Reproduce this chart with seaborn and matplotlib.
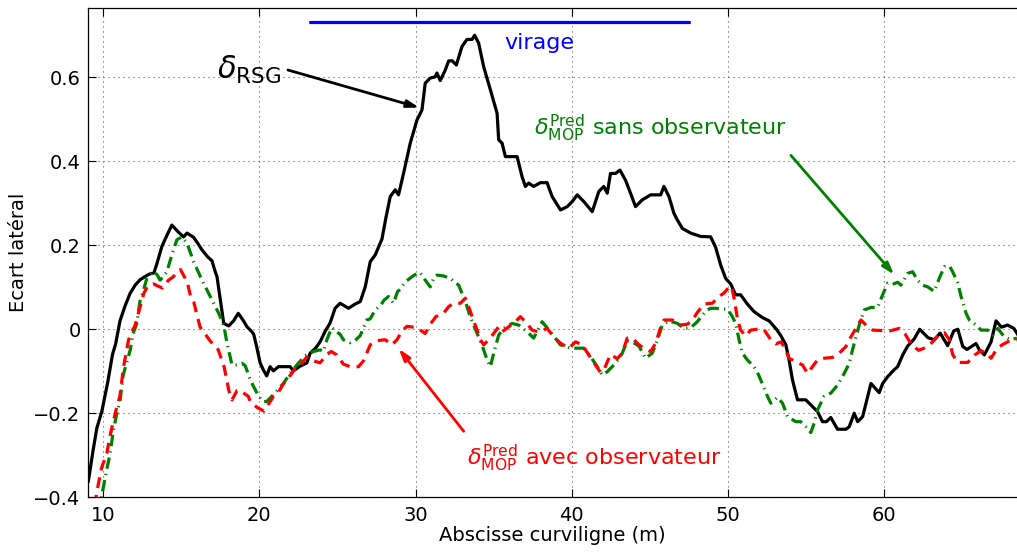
import matplotlib
matplotlib.use("Agg")
import matplotlib.pyplot as plt
import seaborn as sns
import pandas as pd

# ---------------- data ----------------
x_rsg = [9.05, 9.35, 9.6, 9.92, 10.3, 10.6, 10.8, 11.08, 11.4, 11.72, 12.05, 12.37, 12.7, 13.0, 13.25, 13.45,
         13.76, 14.1, 14.4, 14.8, 15.15, 15.37, 15.79, 16.05, 16.33, 16.7, 16.97, 17.15, 17.29, 17.5, 17.72,
         18.04, 18.35, 18.65, 18.95, 19.21, 19.5, 19.64, 19.85, 20.05, 20.26, 20.47, 20.69, 20.9, 21.22,
         21.97, 22.18, 22.6, 23.04, 23.25, 23.6, 23.89, 24.21, 24.53, 24.85, 25.17, 25.71, 26.13, 26.46,
         26.78, 27.1, 27.42, 27.85, 28.1, 28.38, 28.7, 28.91, 29.23, 29.66, 30.09, 30.41, 30.62, 30.94,
         31.26, 31.37, 31.58, 31.9, 32.12, 32.35, 32.61, 32.97, 33.29, 33.62, 33.78, 34.04, 34.36, 34.79,
         35.22, 35.32, 35.54, 35.75, 36.5, 36.82, 37.03, 37.24, 37.56, 37.99, 38.42, 38.74, 39.28, 39.71,
         40.03, 40.35, 40.77, 41.31, 41.73, 42.05, 42.27, 42.48, 42.8, 43.08, 43.44, 43.76, 44.08, 44.51,
         45.05, 45.69, 45.9, 46.22, 46.54, 46.76, 47.08, 47.61, 48.25, 48.89, 49.21, 49.53, 49.85, 50.17,
         50.49, 50.81, 51.24, 51.67, 52.2, 52.63, 53.1, 53.38, 53.7, 53.91, 54.13, 54.45, 54.98, 55.41,
         55.73, 56.05, 56.3, 56.58, 57.01, 57.55, 57.76, 58.08, 58.3, 58.62, 59.15, 59.68, 59.9, 60.22,
         60.54, 60.86, 61.2, 61.5, 61.92, 62.27, 62.8, 63.21, 63.58, 64.06, 64.45, 64.71, 65.03, 65.3,
         65.88, 66.09, 66.41, 66.84, 67.16, 67.5, 67.9, 68.3, 68.57]
y_rsg = [-0.363, -0.29, -0.235, -0.195, -0.125, -0.06, -0.035, 0.02, 0.055, 0.085, 0.105, 0.118, 0.126, 0.132,
         0.134, 0.157, 0.197, 0.225, 0.248, 0.232, 0.22, 0.229, 0.219, 0.205, 0.189, 0.172, 0.163, 0.14, 0.125,
         0.07, 0.014, 0.008, 0.02, 0.038, 0.022, 0.006, -0.005, -0.012, -0.045, -0.08, -0.097, -0.111, -0.089,
         -0.099, -0.089, -0.089, -0.099, -0.088, -0.08, -0.057, -0.045, -0.03, -0.005, 0.015, 0.05, 0.062,
         0.05, 0.06, 0.066, 0.101, 0.161, 0.177, 0.215, 0.265, 0.316, 0.332, 0.32, 0.371, 0.443, 0.498, 0.522,
         0.586, 0.598, 0.601, 0.61, 0.592, 0.617, 0.639, 0.639, 0.629, 0.673, 0.69, 0.69, 0.7, 0.681, 0.625,
         0.57, 0.514, 0.451, 0.443, 0.411, 0.411, 0.363, 0.34, 0.348, 0.34, 0.349, 0.349, 0.316, 0.284, 0.292,
         0.304, 0.32, 0.304, 0.28, 0.328, 0.34, 0.324, 0.371, 0.371, 0.379, 0.355, 0.324, 0.292, 0.308, 0.32,
         0.32, 0.34, 0.316, 0.276, 0.26, 0.24, 0.229, 0.221, 0.22, 0.195, 0.153, 0.121, 0.108, 0.082, 0.082,
         0.06, 0.042, 0.028, 0.02, 0.0, -0.015, -0.037, -0.073, -0.121, -0.168, -0.168, -0.184, -0.196, -0.22,
         -0.22, -0.21, -0.238, -0.238, -0.232, -0.2, -0.22, -0.208, -0.129, -0.151, -0.129, -0.113, -0.1,
         -0.089, -0.06, -0.04, -0.023, 0.0, -0.02, -0.025, -0.009, -0.039, -0.004, 0.0, -0.041, -0.048,
         -0.034, -0.049, -0.061, -0.03, 0.02, 0.005, 0.01, 0.002, -0.014]

x_sans = [9.75, 9.92, 10.2, 10.45, 10.64, 10.85, 11.09, 11.28, 11.5, 11.73, 11.92, 12.16, 12.35, 12.59, 12.8,
          13.0, 13.25, 13.45, 13.65, 13.85, 14.08, 14.4, 14.72, 15.04, 15.37, 15.79, 16.33, 16.86, 17.4,
          17.72, 17.93, 18.25, 18.57, 18.89, 19.1, 19.42, 19.85, 20.2, 20.47, 21.0, 21.54, 21.97, 22.4,
          22.93, 23.46, 23.89, 24.1, 24.32, 24.64, 24.9, 25.17, 25.38, 25.81, 26.1, 26.46, 26.88, 27.1,
          27.42, 27.74, 28.0, 28.27, 28.59, 28.85, 29.02, 29.34, 29.77, 30.1, 30.3, 30.62, 30.94, 31.2,
          31.37, 31.79, 32.22, 32.76, 33.19, 33.5, 33.94, 34.25, 34.58, 34.79, 35.0, 35.32, 35.64, 36.18,
          36.6, 37.14, 37.56, 38.1, 38.63, 39.27, 39.91, 40.77, 41.2, 41.63, 41.95, 42.27, 42.8, 43.23,
          43.55, 43.87, 44.3, 44.72, 45.15, 45.47, 45.79, 46.22, 46.76, 47.18, 47.61, 48.04, 48.36, 48.68,
          48.89, 49.21, 49.6, 49.96, 50.28, 50.49, 50.71, 50.92, 51.24, 51.67, 51.95, 52.2, 52.53, 52.74,
          53.17, 53.49, 53.81, 54.34, 54.66, 54.98, 55.3, 55.51, 55.73, 56.15, 56.58, 57.01, 57.44, 57.76,
          57.97, 58.19, 58.4, 58.72, 59.15, 59.58, 59.9, 60.22, 60.54, 60.86, 61.07, 61.5, 61.82, 62.13,
          62.45, 62.78, 63.2, 63.52, 63.85, 64.17, 64.38, 64.71, 64.92, 65.24, 65.45, 65.88, 66.2, 66.63,
          66.95, 67.27, 67.69, 68.12, 68.5]
y_sans = [-0.44, -0.395, -0.34, -0.295, -0.245, -0.205, -0.168, -0.11, -0.08, -0.05, -0.01, 0.014, 0.065,
          0.094, 0.121, 0.13, 0.137, 0.13, 0.117, 0.125, 0.137, 0.177, 0.213, 0.22, 0.205, 0.161, 0.117,
          0.078, 0.038, 0.01, -0.033, -0.085, -0.085, -0.081, -0.087, -0.121, -0.152, -0.172, -0.172,
          -0.152, -0.129, -0.105, -0.085, -0.063, -0.053, -0.049, -0.053, -0.025, 0.004, -0.005, -0.012,
          -0.025, -0.032, -0.028, -0.015, 0.022, 0.025, 0.046, 0.056, 0.07, 0.078, 0.062, 0.09, 0.095,
          0.113, 0.125, 0.133, 0.135, 0.117, 0.101, 0.125, 0.129, 0.127, 0.121, 0.105, 0.066, 0.03, -0.01,
          -0.037, -0.073, -0.089, -0.057, -0.014, 0.002, 0.014, 0.01, -0.006, -0.021, 0.018, -0.006, -0.037,
          -0.045, -0.045, -0.065, -0.089, -0.109, -0.101, -0.081, -0.057, -0.028, -0.03, -0.04, -0.069,
          -0.057, -0.027, 0.01, 0.02, 0.014, 0.002, 0.004, 0.018, 0.034, 0.046, 0.05, 0.05, 0.048, 0.048,
          0.03, 0.014, -0.025, -0.057, -0.073, -0.089, -0.108, -0.13, -0.16, -0.176, -0.162, -0.176, -0.208,
          -0.22, -0.22, -0.232, -0.246, -0.224, -0.192, -0.16, -0.152, -0.133, -0.105, -0.081, -0.049,
          -0.018, 0.01, 0.046, 0.052, 0.052, 0.082, 0.11, 0.107, 0.112, 0.105, 0.133, 0.137, 0.117, 0.105,
          0.101, 0.09, 0.121, 0.149, 0.151, 0.137, 0.11, 0.078, 0.038, 0.022, 0.01, -0.002, -0.002, -0.014,
          0.002, -0.018, -0.025, -0.021]

x_avec = [9.5, 9.58, 9.9, 10.24, 10.43, 10.65, 10.88, 11.07, 11.31, 11.63, 11.85, 12.05, 12.37, 12.6, 12.85,
          13.23, 13.5, 13.8, 14.19, 14.5, 14.72, 14.95, 15.2, 15.4, 15.6, 15.8, 16.2, 16.5, 16.86, 17.37,
          17.75, 18.04, 18.25, 18.57, 18.76, 19.0, 19.3, 19.42, 19.85, 20.3, 20.69, 20.9, 21.12, 21.54,
          21.75, 22.08, 22.4, 22.61, 23.04, 23.46, 23.89, 24.32, 24.6, 24.96, 25.38, 25.81, 26.35, 26.67,
          27.1, 27.53, 28.06, 28.49, 28.81, 29.13, 29.45, 29.88, 30.19, 30.62, 30.94, 31.3, 31.79, 32.12,
          32.44, 32.87, 33.19, 33.4, 33.62, 33.94, 34.15, 34.36, 34.68, 35.0, 35.32, 35.54, 35.96, 36.39,
          36.71, 37.14, 37.46, 37.88, 38.42, 38.85, 39.27, 39.81, 40.24, 40.67, 41.09, 41.52, 41.84, 42.05,
          42.48, 42.91, 43.23, 43.55, 43.87, 44.3, 44.72, 45.05, 45.37, 45.69, 45.9, 46.44, 46.97, 47.4,
          47.72, 48.04, 48.46, 49.0, 49.42, 49.74, 50.06, 50.22, 50.38, 50.6, 50.81, 51.13, 51.45, 51.88,
          52.31, 52.74, 53.06, 53.38, 53.59, 53.91, 54.34, 54.77, 55.09, 55.41, 55.73, 56.15, 56.7, 57.12,
          57.55, 57.87, 58.19, 58.51, 58.83, 59.26, 59.79, 60.35, 60.96, 61.35, 61.75, 62.2, 62.7, 63.1,
          63.5, 63.85, 64.17, 64.38, 64.7, 65.35, 65.8, 66.2, 66.55, 66.84, 67.2, 67.55, 67.95, 68.5]
y_avec = [-0.42, -0.39, -0.33, -0.295, -0.256, -0.22, -0.184, -0.16, -0.089, -0.025, -0.005, 0.01, 0.054,
          0.085, 0.103, 0.108, 0.103, 0.098, 0.117, 0.125, 0.137, 0.142, 0.125, 0.11, 0.078, 0.065, 0.006,
          -0.01, -0.028, -0.049, -0.09, -0.145, -0.168, -0.146, -0.145, -0.152, -0.16, -0.172, -0.186,
          -0.195, -0.172, -0.16, -0.156, -0.13, -0.12, -0.105, -0.087, -0.085, -0.066, -0.075, -0.08, -0.06,
          -0.053, -0.061, -0.083, -0.089, -0.089, -0.075, -0.037, -0.027, -0.025, -0.037, -0.025, -0.004,
          0.007, 0.005, 0.001, -0.01, 0.012, 0.03, 0.038, 0.054, 0.062, 0.062, 0.074, 0.054, 0.03, -0.002,
          -0.025, -0.037, -0.025, -0.01, 0.006, -0.006, 0.006, 0.018, 0.03, 0.014, -0.002, -0.006, 0.002,
          -0.018, -0.033, -0.045, -0.03, -0.037, -0.061, -0.085, -0.103, -0.097, -0.06, -0.07, -0.057,
          -0.021, -0.021, -0.037, -0.048, -0.053, -0.033, 0.004, 0.022, 0.022, 0.01, 0.012, 0.022, 0.04,
          0.06, 0.062, 0.078, 0.086, 0.1, 0.103, 0.076, 0.026, -0.002, -0.016, -0.002, 0.0, -0.001, -0.025,
          -0.035, -0.03, -0.041, -0.069, -0.077, -0.085, -0.105, -0.089, -0.073, -0.069, -0.067, -0.057,
          -0.041, -0.018, 0.002, 0.022, 0.01, -0.002, -0.003, -0.004, 0.002, -0.012, -0.037, -0.05, -0.043,
          -0.03, -0.012, -0.008, -0.025, -0.06, -0.079, -0.079, -0.061, -0.051, -0.057, -0.069, -0.047,
          -0.037, -0.029, -0.025]

virage_x = [23.25, 47.5]
virage_y = [0.732, 0.732]

x_ticks = [10, 20, 30, 40, 50, 60]
y_ticks = [-0.4, -0.2, 0, 0.2, 0.4, 0.6]
y_ticklabels = ["\u22120.4", "\u22120.2", "0", "0.2", "0.4", "0.6"]

# ---------------- figure ----------------
sns.set_style("white")
plt.rcParams["font.family"] = ["DejaVu Sans"]
plt.rcParams["mathtext.fontset"] = "dejavusans"
plt.rcParams["text.color"] = "black"
plt.rcParams["axes.labelcolor"] = "black"
plt.rcParams["xtick.color"] = "black"
plt.rcParams["ytick.color"] = "black"

W, H = 1017, 554
fig = plt.figure(figsize=(W / 100, H / 100), dpi=100)
ax = fig.add_axes([87.5 / W, 1 - 497.3 / H, (W - 87.5) / W, (497.3 - 7.5) / H])

df_rsg = pd.DataFrame({"x": x_rsg, "y": y_rsg})
df_sans = pd.DataFrame({"x": x_sans, "y": y_sans})
df_avec = pd.DataFrame({"x": x_avec, "y": y_avec})
df_vir = pd.DataFrame({"x": virage_x, "y": virage_y})

sns.lineplot(data=df_rsg, x="x", y="y", ax=ax, color="black", lw=2.3, estimator=None, zorder=3)
sns.lineplot(data=df_sans, x="x", y="y", ax=ax, color=(0, 0.5, 0), lw=2.3, estimator=None,
             linestyle=(0, (3.6, 1.6, 0.4, 1.6)), zorder=4)
sns.lineplot(data=df_avec, x="x", y="y", ax=ax, color=(1, 0, 0), lw=2.3, estimator=None,
             linestyle=(0, (3.4, 2.2)), zorder=5)
sns.lineplot(data=df_vir, x="x", y="y", ax=ax, color=(0, 0, 1), lw=2.3, estimator=None, zorder=6)

ax.set_xlim(9.0, 68.5)
ax.set_ylim(-0.4, 0.766)
ax.set_xticks(x_ticks)
ax.set_yticks(y_ticks)
ax.set_yticklabels(y_ticklabels)
ax.tick_params(axis="both", direction="in", length=6, width=0.8, labelsize=14,
               top=True, right=False, bottom=True, left=True, pad=6,
               colors="black", labelcolor="black")
ax.tick_params(axis="y", pad=5)
ax.grid(True, linestyle=(0, (1, 3.5)), color="0.35", lw=0.8)
for s in ["left", "bottom", "top"]:
    ax.spines[s].set_color("black")
    ax.spines[s].set_linewidth(0.9)
ax.spines["right"].set_visible(False)

ax.set_xlabel("Abscisse curviligne (m)", fontsize=14, labelpad=1, color="black")
ax.set_ylabel("Ecart latéral", fontsize=14, labelpad=4, color="black")

# annotations
ax.text(37.9, 0.667, "virage", color=(0, 0, 1), fontsize=16, ha="center", va="baseline")

ax.text(21.4, 0.618, r"$\delta_{\mathrm{RSG}}$", fontsize=22, ha="right", va="center", color="black")
ax.annotate("", xy=(30.4, 0.526), xytext=(21.66, 0.619),
            arrowprops=dict(arrowstyle="-|>,head_length=0.7,head_width=0.22", color="black", lw=2))

green = (0, 0.5, 0)
ax.text(37.55, 0.4626, r"$\delta^{\mathrm{Pred}}_{\mathrm{MOP}}$ sans observateur",
        color=green, fontsize=16, ha="left", va="baseline")
ax.annotate("", xy=(60.75, 0.125), xytext=(53.91, 0.419),
            arrowprops=dict(arrowstyle="-|>,head_length=0.7,head_width=0.22", color=green, lw=2))

ax.text(33.29, -0.323, r"$\delta^{\mathrm{Pred}}_{\mathrm{MOP}}$ avec observateur",
        color="red", fontsize=16, ha="left", va="baseline")
ax.annotate("", xy=(28.81, -0.041), xytext=(33.19, -0.248),
            arrowprops=dict(arrowstyle="-|>,head_length=0.7,head_width=0.22", color="red", lw=2))

fig.savefig("out.png", dpi=100)
